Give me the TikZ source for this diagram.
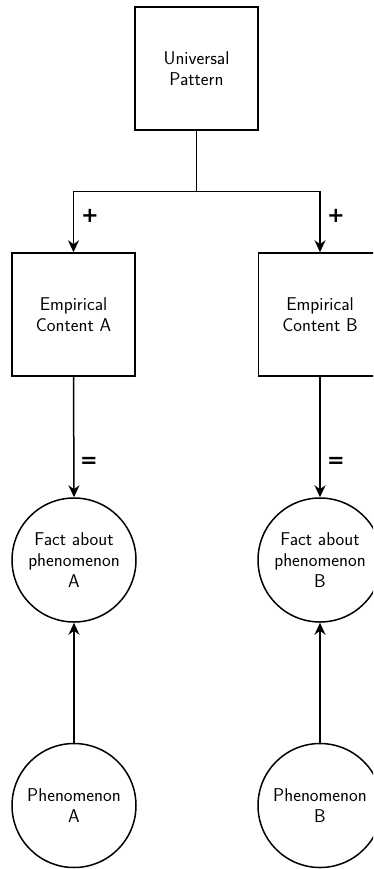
\documentclass[tikz,border=0pt]{standalone}
\usepackage{fontspec}
\newfontfamily\lblfont{DejaVu Sans}
\usetikzlibrary{arrows.meta}
\begin{document}
\begin{tikzpicture}[x=1pt,y=-1pt,
  txt/.style={font=\fontsize{18.5}{21}\selectfont\sffamily, align=center, text=black},
  boxnode/.style={txt, draw, line width=1.5pt, minimum width=123pt, minimum height=123pt, inner sep=0pt},
  circnode/.style={txt, draw, circle, line width=1.5pt, minimum size=124pt, inner sep=0pt},
  conn/.style={line width=1.5pt},
  arr/.style={conn, -{Stealth[length=12pt,width=11pt,inset=4pt]}},
  lbl/.style={font=\fontsize{21}{24}\selectfont\lblfont\bfseries, text=black, inner sep=0pt}]
\useasboundingbox (0,0) rectangle (373,869);
\clip (0,0) rectangle (373,869);
\node[boxnode] (U) at (196.5,68.5) {Universal\\Pattern};
\coordinate (J) at (196.5,191.5);
\node[boxnode] (EA) at (73.5,314.5) {Empirical\\Content A};
\node[boxnode] (EB) at (320,314.5) {Empirical\\Content B};
\node[circnode] (FA) at (74,560) {Fact about\\phenomenon\\A};
\node[circnode] (FB) at (320,560) {Fact about\\phenomenon\\B};
\node[circnode] (PA) at (74,805.5) {Phenomenon\\A};
\node[circnode] (PB) at (320,805.5) {Phenomenon\\B};
\draw[conn] (U.south) -- (J);
\draw[arr] (J) -| (EA.north);
\draw[arr] (J) -| (EB.north);
\draw[arr] (EA.south) -- (FA.north);
\draw[arr] (EB.south) -- (FB.north);
\draw[arr] (PA.north) -- (FA.south);
\draw[arr] (PB.north) -- (FB.south);
\node[lbl] (plusA) at (90,216) {+};
\node[lbl] (plusB) at (336,216) {+};
\node[lbl] (eqA) at (89,462) {=};
\node[lbl] (eqB) at (336,462) {=};
\end{tikzpicture}
\end{document}
